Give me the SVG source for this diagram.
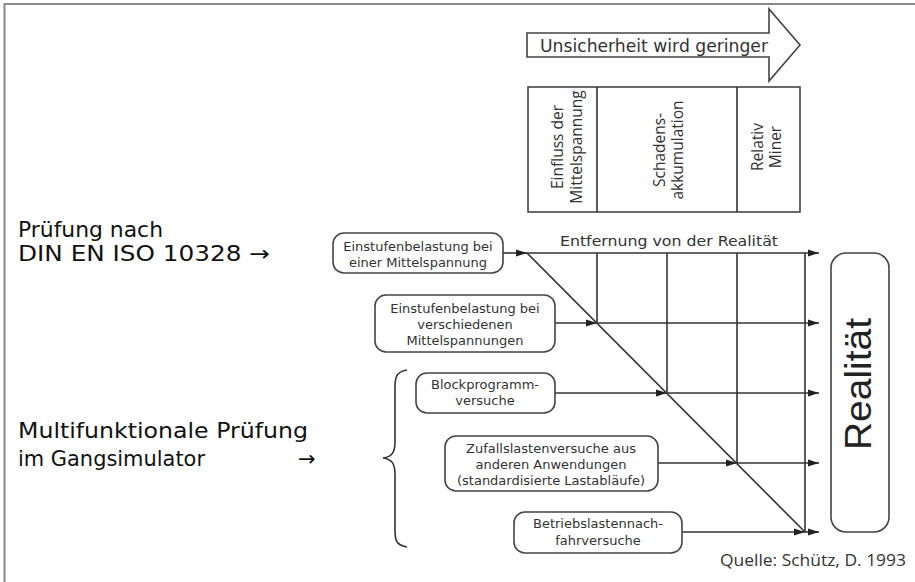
<svg xmlns="http://www.w3.org/2000/svg" width="915" height="582" viewBox="0 0 915 582">
<defs>
<marker id="ah" markerUnits="userSpaceOnUse" markerWidth="12" markerHeight="8" refX="11" refY="4" orient="auto">
<path d="M0,0.5 L11,4 L0,7.5 Z" fill="#222"/>
</marker>
<style>
.frame{fill:none;stroke:#888;stroke-width:2}
.box{fill:#fff;stroke:#444;stroke-width:1.6}
.ln{fill:none;stroke:#333;stroke-width:1.6}
.arr{fill:none;stroke:#333;stroke-width:1.6;marker-end:url(#ah)}
.bt{font-family:"DejaVu Sans",Verdana,sans-serif;font-size:13px;fill:#333;text-anchor:middle}
.ct{font-family:"Open Sans","Noto Sans",sans-serif;font-size:15.5px;fill:#333;text-anchor:middle}
.lt{font-family:"DejaVu Sans",Verdana,sans-serif;font-size:21px;fill:#111}
</style>
</defs>
<rect width="915" height="582" fill="#fff"/>
<path class="frame" d="M4.5,582 V4 H915"/>

<g id="header-arrow">
<polygon class="box" points="527,33 769,33 769,9 800,45 769,81 769,57 527,57"/>
<text x="540" y="52" style="font-family:'DejaVu Sans',Verdana,sans-serif;font-size:17px;fill:#333" textLength="228" lengthAdjust="spacingAndGlyphs">Unsicherheit wird geringer</text>
</g>

<g id="table">
<rect class="box" x="528" y="87" width="272" height="125"/>
<line class="ln" x1="597" y1="87" x2="597" y2="212"/>
<line class="ln" x1="737" y1="87" x2="737" y2="212"/>
<text class="ct" transform="translate(563,147) rotate(-90)">Einfluss der</text>
<text class="ct" transform="translate(582,147) rotate(-90)">Mittelspannung</text>
<text class="ct" transform="translate(665,150) rotate(-90)">Schadens-</text>
<text class="ct" transform="translate(683,150) rotate(-90)">akkumulation</text>
<text class="ct" transform="translate(763,147) rotate(-90)">Relativ</text>
<text class="ct" transform="translate(781,147) rotate(-90)">Miner</text>
</g>

<g id="label-din">
<text class="lt" x="18" y="237" textLength="145" lengthAdjust="spacingAndGlyphs">Prüfung nach</text>
<text class="lt" x="18" y="261" textLength="252" lengthAdjust="spacingAndGlyphs">DIN EN ISO 10328 →</text>
</g>
<g id="label-multi">
<text class="lt" x="18" y="438" textLength="290" lengthAdjust="spacingAndGlyphs">Multifunktionale Prüfung</text>
<text class="lt" x="18" y="466" textLength="187" lengthAdjust="spacingAndGlyphs">im Gangsimulator</text>
<text class="lt" x="298" y="466">→</text>
<path class="ln" d="M407,370 C394,372 395,380 395,392 L395,442 C395,452 392,457 383,458 C392,459 395,464 395,474 L395,526 C395,538 394,545 407,547"/>
</g>

<g id="connectors">
<line class="arr" x1="503" y1="253" x2="527" y2="253"/>
<line class="arr" x1="527" y1="253" x2="819" y2="253"/>
<line class="arr" x1="555" y1="323" x2="597" y2="323"/>
<line class="arr" x1="597" y1="323" x2="819" y2="323"/>
<line class="arr" x1="555" y1="393" x2="667" y2="393"/>
<line class="arr" x1="667" y1="393" x2="819" y2="393"/>
<line class="arr" x1="658" y1="463" x2="737" y2="463"/>
<line class="arr" x1="737" y1="463" x2="819" y2="463"/>
<line class="arr" x1="682" y1="532" x2="805" y2="532"/>
<line class="arr" x1="805" y1="532" x2="819" y2="532"/>
<line class="ln" x1="527" y1="253" x2="805" y2="532"/>
<line class="ln" x1="597" y1="253" x2="597" y2="323"/>
<line class="ln" x1="667" y1="253" x2="667" y2="393"/>
<line class="ln" x1="737" y1="253" x2="737" y2="463"/>
<line class="ln" x1="805" y1="253" x2="805" y2="532"/>
<text x="560" y="246" style="font-family:'DejaVu Sans',Verdana,sans-serif;font-size:14.5px;fill:#333" textLength="218" lengthAdjust="spacingAndGlyphs">Entfernung von der Realität</text>
</g>

<g id="n1">
<rect class="box" x="333" y="233" width="170" height="40" rx="11"/>
<text class="bt" x="418" y="251">Einstufenbelastung bei</text>
<text class="bt" x="418" y="267">einer Mittelspannung</text>
</g>
<g id="n2">
<rect class="box" x="375" y="295" width="180" height="57" rx="11"/>
<text class="bt" x="465" y="313">Einstufenbelastung bei</text>
<text class="bt" x="465" y="329">verschiedenen</text>
<text class="bt" x="465" y="345">Mittelspannungen</text>
</g>
<g id="n3">
<rect class="box" x="416" y="373" width="139" height="40" rx="11"/>
<text class="bt" x="485" y="389">Blockprogramm-</text>
<text class="bt" x="485" y="405">versuche</text>
</g>
<g id="n4">
<rect class="box" x="445" y="436" width="213" height="55" rx="11"/>
<text class="bt" x="551" y="453">Zufallslastenversuche aus</text>
<text class="bt" x="551" y="469">anderen Anwendungen</text>
<text class="bt" x="551" y="485">(standardisierte Lastabläufe)</text>
</g>
<g id="n5">
<rect class="box" x="514" y="512" width="168" height="41" rx="11"/>
<text class="bt" x="598" y="528">Betriebslastennach-</text>
<text class="bt" x="598" y="545">fahrversuche</text>
</g>
<g id="realitaet">
<rect class="box" x="831" y="253" width="58" height="279" rx="15"/>
<text transform="translate(871,384) rotate(-90)" style="font-family:'Liberation Sans',Arial,sans-serif;font-size:36px;fill:#222;text-anchor:middle" textLength="132" lengthAdjust="spacingAndGlyphs">Realität</text>
</g>

<text x="720" y="566" style="font-family:'Open Sans','Noto Sans',sans-serif;font-size:16px;fill:#333" textLength="186" lengthAdjust="spacingAndGlyphs">Quelle: Schütz, D. 1993</text>
</svg>
